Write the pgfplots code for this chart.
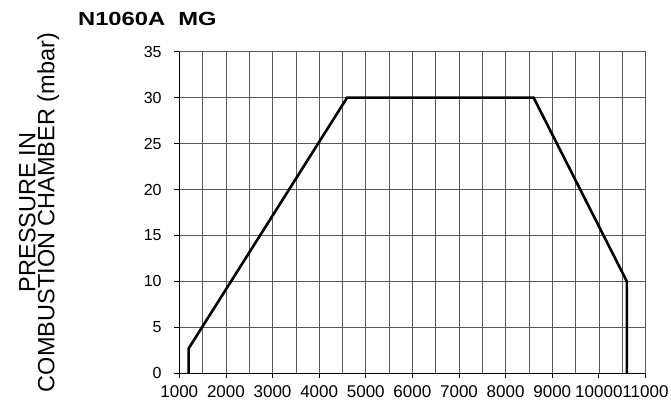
\documentclass[border=0pt]{standalone}
\usepackage{fontspec}
\setmainfont{Liberation Sans}
\usepackage{graphicx}
\usepackage{pgfplots}
\pgfplotsset{compat=1.18}
\begin{document}
\begin{tikzpicture}
\useasboundingbox (-179.3pt,-27.7pt) rectangle (491.7pt,373.3pt);
\begin{axis}[
  at={(0,0)}, anchor=south west,
  scale only axis,
  width=466.2pt, height=321.6pt,
  xmin=1000, xmax=11000, ymin=0, ymax=35,
  xtick={1000,2000,...,11000},
  scaled x ticks=false,
  minor x tick num=1,
  ytick={0,5,...,35},
  axis x line*=bottom, axis y line*=left,
  axis line style={black, line width=0.8pt},
  tick align=outside,
  major tick length=5pt, minor tick length=0pt,
  tick style={black, line width=0.8pt},
  grid=both,
  major grid style={black!65, line width=0.7pt},
  minor grid style={black!65, line width=0.7pt},
  /pgf/number format/assume math mode=true,
  /pgf/number format/1000 sep={},
  xticklabel style={font=\fontsize{17}{20}\selectfont, inner sep=0pt, yshift=-7pt},
  yticklabel style={font=\fontsize{16}{18}\selectfont, inner sep=0pt, xshift=-12.5pt},
  ylabel={PRESSURE IN\\COMBUSTION CHAMBER (mbar)},
  ylabel style={at={(axis description cs:-0.257,0.5)}, anchor=south, inner sep=0pt, align=center, font=\fontsize{23.5}{19}\selectfont},
  title={\scalebox{1.25}[1]{\bfseries N1060A\ \ MG}},
  title style={at={(axis description cs:-0.2174,1.0613)}, anchor=base west, inner sep=0pt, font=\fontsize{19}{21}\selectfont},
  clip=false,
]
\addplot[black, line width=2.6pt, line join=miter] coordinates {
  (1200,0) (1200,2.7) (4600,30) (8600,30) (10600,10) (10600,0)
};
\end{axis}
\end{tikzpicture}
\end{document}
